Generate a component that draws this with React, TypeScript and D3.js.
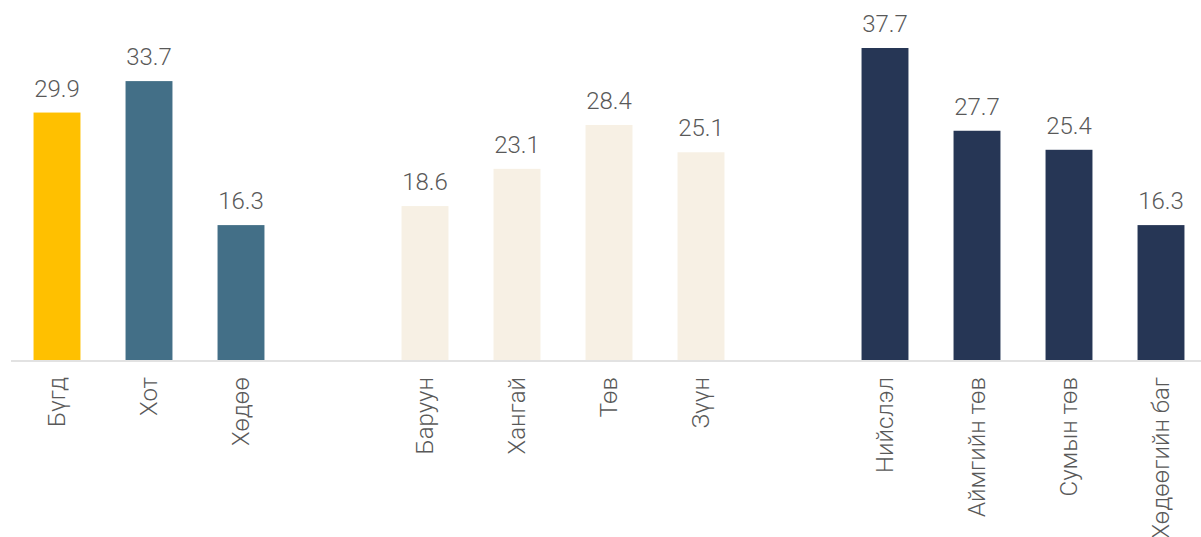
import React from "react";
import * as d3 from "d3";

const categories = [
  "Бүгд", "Хот", "Хөдөө", "",
  "Баруун", "Хангай", "Төв", "Зүүн", "",
  "Нийслэл", "Аймгийн төв", "Сумын төв", "Хөдөөгийн баг",
];
const values: (number | null)[] = [
  29.9, 33.7, 16.3, null,
  18.6, 23.1, 28.4, 25.1, null,
  37.7, 27.7, 25.4, 16.3,
];
const groups = [
  "total", "urban", "urban", "",
  "region", "region", "region", "region", "",
  "loc", "loc", "loc", "loc",
];
const groupColors: Record<string, string> = {
  total: "#FFC000",
  urban: "#436F87",
  region: "#F7F0E4",
  loc: "#263655",
};

const W = 1201;
const H = 537;

export default function App() {
  const slots = categories.map((_, i) => String(i));
  const x = d3
    .scaleBand<string>()
    .domain(slots)
    .range([11, 11 + 13 * 92])
    .paddingInner(0.49)
    .paddingOuter(0.245);
  const y = d3.scaleLinear().domain([0, 37.7]).range([360, 48]);
  const font = "Roboto, 'Noto Sans', sans-serif";

  return (
    <svg
      width={W}
      height={H}
      style={{ position: "absolute", left: 0, top: 0, background: "#fff" }}
    >
      {values.map((v, i) =>
        v == null ? null : (
          <g key={i}>
            <rect
              x={x(String(i))}
              y={y(v)}
              width={x.bandwidth()}
              height={y(0) - y(v)}
              fill={groupColors[groups[i]]}
            />
            <text
              x={(x(String(i)) as number) + x.bandwidth() / 2}
              y={y(v) - 16}
              textAnchor="middle"
              fontFamily={font}
              fontWeight={300}
              fontSize={24}
              fill="#595959"
            >
              {d3.format(".1f")(v)}
            </text>
          </g>
        )
      )}
      <line x1={11} x2={W} y1={361} y2={361} stroke="#D9D9D9" strokeWidth={1.5} />
      {categories.map((c, i) =>
        c ? (
          <text
            key={"c" + i}
            transform={`translate(${(x(String(i)) as number) + x.bandwidth() / 2},377) rotate(-90)`}
            textAnchor="end"
            dominantBaseline="central"
            fontFamily={font}
            fontWeight={300}
            fontSize={24}
            fill="#595959"
          >
            {c}
          </text>
        ) : null
      )}
    </svg>
  );
}
